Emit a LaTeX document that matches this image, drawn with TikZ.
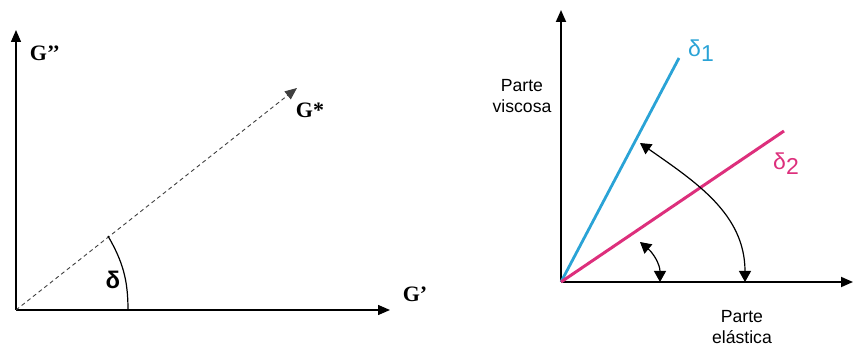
\documentclass[tikz,border=0pt]{standalone}
\usepackage{fontspec}
\setmainfont{Liberation Serif}
\setsansfont{Liberation Sans}
\usetikzlibrary{arrows.meta, positioning}
\definecolor{Viscous}{HTML}{2AA3D6}
\definecolor{Elastic}{HTML}{DD2F7C}

\begin{document}
\begin{tikzpicture}[
      x=0.5pt, y=0.5pt,
      axis/.style={-{Triangle[length=6pt, width=5pt]}, line width=0.7pt, black},
      vector/.style={-{Triangle[length=6pt, width=5pt]}, line width=0.45pt, dashed, dash pattern=on 2pt off 1.6pt, black!75},
      angle/.style={line width=0.6pt, black},
      phase/.style={{Triangle[length=5.5pt, width=6pt]}-{Triangle[length=5.5pt, width=6pt]}, line width=0.6pt, black},
      serifbold/.style={font=\rmfamily\bfseries\fontsize{11}{12}\selectfont},
      sanslabel/.style={font=\sffamily\fontsize{8.8}{10.5}\selectfont, align=center},
      deltalabel/.style={font=\sffamily\fontsize{11.5}{12}\selectfont},
  ]
  \useasboundingbox (0,0) rectangle (853,354);

  % Left: G' / G'' plane
  \coordinate (o1) at (16,44);
  \coordinate (ytip1) at (16,324);
  \coordinate (xtip1) at (390,44);
  \coordinate (gstar) at (297,266);
  \coordinate (arcbot) at (128,44);
  \coordinate (arctop) at (108,118);

  \draw[axis] (o1) -- (ytip1);
  \draw[axis] (o1) -- (xtip1);
  \draw[vector] (o1) -- (gstar);
  \draw[angle] (arcbot) to[out=90, in=-60] (arctop);

  \node[serifbold] (lblgpp) at (45,301) {G’’};
  \node[serifbold] (lblgst) at (310,244) {G*};
  \node[serifbold] (lblgp) at (415,60) {G’};
  \node[font=\sffamily\bfseries\fontsize{12}{13}\selectfont] (lbldelta) at (113,74) {δ};

  % Right: viscous / elastic parts
  \coordinate (o2) at (561,72);
  \coordinate (ytip2) at (561,344);
  \coordinate (xtip2) at (853,72);
  \coordinate (blueend) at (679,296);
  \coordinate (pinkend) at (784,223);

  \draw[axis, line width=0.9pt] (o2) -- (ytip2);
  \draw[axis, line width=0.9pt] (o2) -- (xtip2);
  \draw[Viscous, line width=1.4pt] (o2) -- (blueend);
  \draw[Elastic, line width=1.5pt] (o2) -- (pinkend);

  \coordinate (bigbot) at (745,72);
  \coordinate (bigtop) at (640,211);
  \coordinate (smallbot) at (660,72);
  \coordinate (smalltop) at (640,112);
  \draw[phase] (bigbot) to[out=90, in=-35] (bigtop);
  \draw[phase] (smallbot) to[out=90, in=-40] (smalltop);

  \node[deltalabel, text=Viscous] (lbld1) at (701,303) {δ\raisebox{-2.5pt}{1}};
  \node[deltalabel, text=Elastic] (lbld2) at (786,190) {δ\raisebox{-2.5pt}{2}};
  \node[sanslabel] (lblvisc) at (522,258) {Parte\\viscosa};
  \node[sanslabel] (lblelas) at (742,27) {Parte\\elástica};

  \end{tikzpicture}
\end{document}
